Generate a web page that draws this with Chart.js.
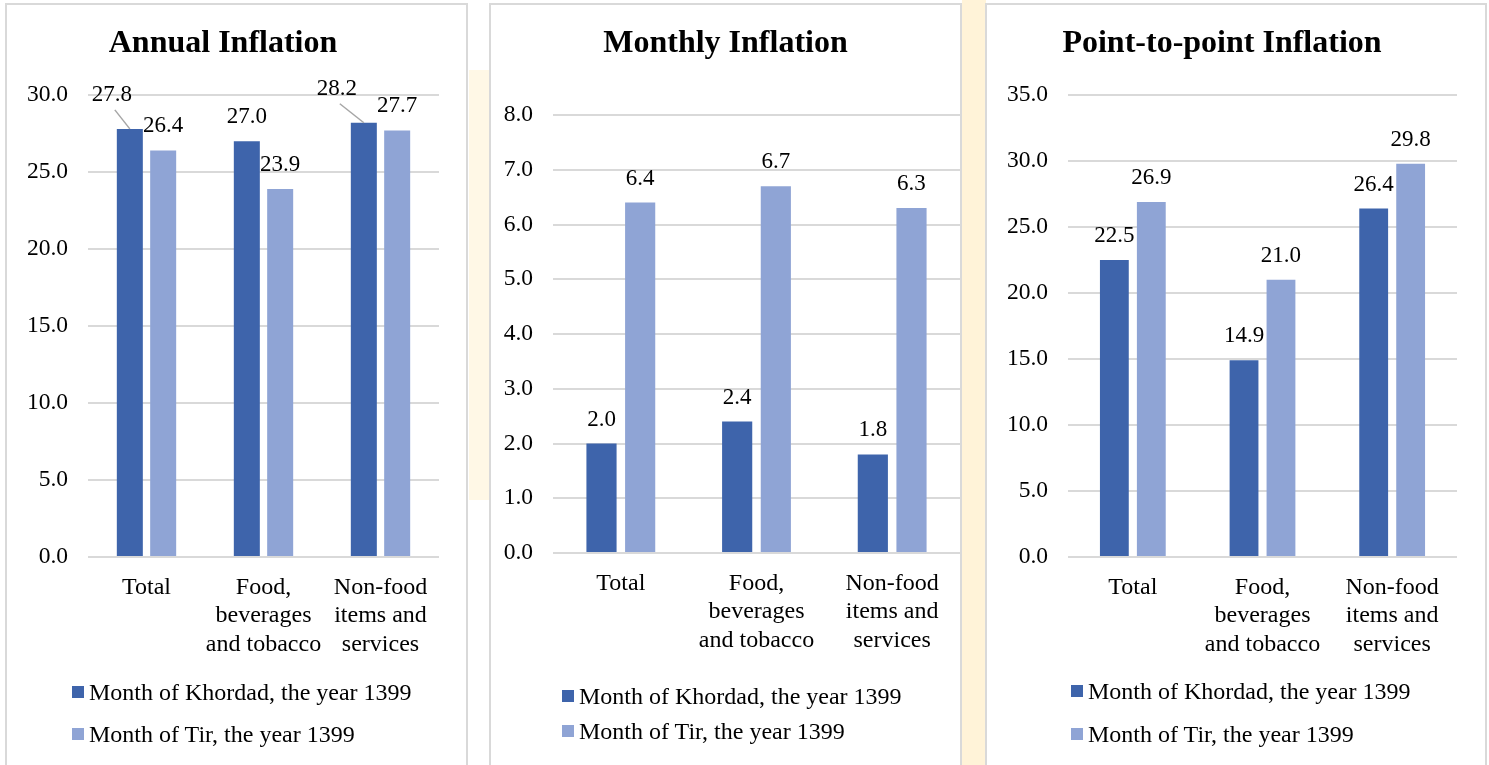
<!DOCTYPE html>
<html>
<head>
<meta charset="utf-8">
<title>Inflation</title>
<script src="https://cdn.jsdelivr.net/npm/chart.js@4.4.1/dist/chart.umd.min.js"></script>
<style>
  html, body { margin: 0; padding: 0; background: #fff; }
  body { width: 1489px; height: 765px; position: relative; overflow: hidden; font-family: "Liberation Serif", "Times New Roman", serif; }
  .wm { position: absolute; background: #fff3d8; }
  .panel { position: absolute; top: 3px; height: 762px; box-sizing: border-box; border: 2px solid #d9d9d9; border-bottom: none; background: #fff; }
  .panel canvas { position: absolute; left: 0; top: 0; }
  .legend { position: absolute; font-size: 24px; color: #000; }
  .legend .row { position: absolute; left: 0; white-space: nowrap; display: flex; align-items: center; height: 24px; }
  .legend .box { width: 12px; height: 12px; margin-right: 5px; }
</style>
</head>
<body>
<div class="wm" style="left:962px; top:0; width:24px; height:765px;"></div>
<div class="wm" style="left:469px; top:70px; width:21px; height:430px; background:#fff8e6;"></div>

<div class="panel" style="left:5px; width:463px;"><canvas id="annual" width="459" height="760"></canvas></div>
<div class="panel" style="left:489px; width:473px;"><canvas id="monthly" width="469" height="760"></canvas></div>
<div class="panel" style="left:985px; width:502px;"><canvas id="p2p" width="498" height="760"></canvas></div>

<div class="legend" id="legAnnual" style="left:72px; top:680px;"></div>
<div class="legend" id="legMonthly" style="left:562px; top:684px;"></div>
<div class="legend" id="legP2p" style="left:1071px; top:679px;"></div>

<script>
const categories = [["Total"], ["Food,", "beverages", "and tobacco"], ["Non-food", "items and", "services"]];
const seriesNames = ["Month of Khordad, the year 1399", "Month of Tir, the year 1399"];

const annualKhordad = [27.8, 27.0, 28.2];
const annualTir = [26.4, 23.9, 27.7];

const monthlyKhordad = [2.0, 2.4, 1.8];
const monthlyTir = [6.4, 6.7, 6.3];

const p2pKhordad = [22.5, 14.9, 26.4];
const p2pTir = [26.9, 21.0, 29.8];

const annualTicks = [0, 5, 10, 15, 20, 25, 30];
const monthlyTicks = [0, 1, 2, 3, 4, 5, 6, 7, 8];
const p2pTicks = [0, 5, 10, 15, 20, 25, 30, 35];

const DARK = "#3e64ab";
const LIGHT = "#8fa4d5";
const GRID = "#d9d9d9";
const FONT = "Liberation Serif";

// value labels above the bars (no datalabels plugin offline)
const valueLabels = {
  id: "valueLabels",
  afterDatasetsDraw(chart, args, opts) {
    const ctx = chart.ctx;
    const shifts = opts.shifts || {};
    ctx.save();
    ctx.font = "23px \"" + FONT + "\"";
    ctx.fillStyle = "#000";
    ctx.textAlign = "center";
    ctx.textBaseline = "middle";
    chart.data.datasets.forEach((ds, i) => {
      chart.getDatasetMeta(i).data.forEach((bar, j) => {
        const s = shifts[i + "-" + j] || [0, 0];
        const x = bar.x + s[0];
        const y = bar.y - opts.gap + s[1];
        if (s[0] || s[1]) {
          ctx.strokeStyle = "#a6a6a6";
          ctx.lineWidth = 1.5;
          ctx.beginPath();
          ctx.moveTo(x + 3, y + 15);
          ctx.lineTo(bar.x, bar.y);
          ctx.stroke();
        }
        ctx.fillText(ds.data[j].toFixed(1), x, y);
      });
    });
    ctx.restore();
  }
};

function makeChart(id, title, khordad, tir, ticks, box) {
  return new Chart(document.getElementById(id), {
    type: "bar",
    data: {
      labels: categories,
      datasets: [
        { label: seriesNames[0], data: khordad, backgroundColor: DARK },
        { label: seriesNames[1], data: tir, backgroundColor: LIGHT },
      ],
    },
    options: {
      responsive: false,
      animation: false,
      devicePixelRatio: 1,
      categoryPercentage: 0.57,
      barPercentage: 0.78,
      layout: { padding: { left: 0, right: box.right, top: 0, bottom: 0 } },
      plugins: {
        legend: { display: false },
        tooltip: { enabled: false },
        title: {
          display: true,
          text: title,
          color: "#000",
          font: { family: FONT, size: 32, weight: "bold" },
          padding: { top: 20, bottom: box.titleGap },
        },
        valueLabels: { gap: 24, shifts: box.shifts || {} },
      },
      scales: {
        x: {
          grid: { display: false },
          border: { display: false },
          ticks: {
            color: "#000",
            font: { family: FONT, size: 24 },
            padding: 8,
            maxRotation: 0,
            autoSkip: false,
          },
          afterFit(scale) { scale.height = box.xHeight; },
        },
        y: {
          min: ticks[0],
          max: ticks[ticks.length - 1],
          border: { display: false },
          grid: { color: GRID, lineWidth: 2, drawTicks: false },
          ticks: {
            stepSize: ticks[1] - ticks[0],
            color: "#000",
            font: { family: FONT, size: 23.5 },
            padding: 20,
            callback: (v) => v.toFixed(1),
          },
          afterFit(scale) { scale.width = box.yWidth; },
        },
      },
    },
    plugins: [valueLabels],
  });
}

function makeLegend(id, rowGap) {
  const el = document.getElementById(id);
  [DARK, LIGHT].forEach((c, i) => {
    const row = document.createElement("div");
    row.className = "row";
    row.style.top = (i * rowGap) + "px";
    const b = document.createElement("span");
    b.className = "box";
    b.style.background = c;
    const t = document.createElement("span");
    t.textContent = seriesNames[i];
    row.appendChild(b);
    row.appendChild(t);
    el.appendChild(row);
  });
}

makeChart("annual", "Annual Inflation", annualKhordad, annualTir, annualTicks, {
  right: 27, titleGap: 31.6, xHeight: 208, yWidth: 81,
  shifts: { "0-0": [-18, -10], "0-2": [-27, -10] },
});
makeChart("monthly", "Monthly Inflation", monthlyKhordad, monthlyTir, monthlyTicks, {
  right: 0, titleGap: 51.6, xHeight: 212, yWidth: 62,
});
makeChart("p2p", "Point-to-point Inflation", p2pKhordad, p2pTir, p2pTicks, {
  right: 28, titleGap: 31.6, xHeight: 208, yWidth: 81,
});

makeLegend("legAnnual", 42);
makeLegend("legMonthly", 35);
makeLegend("legP2p", 43);
</script>
</body>
</html>
